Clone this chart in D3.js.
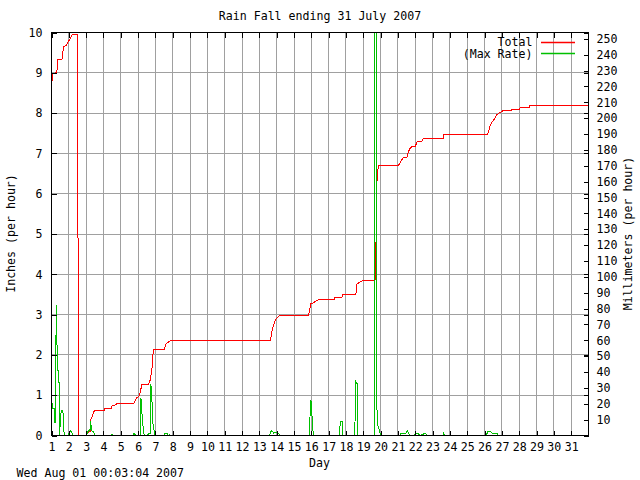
<!DOCTYPE html>
<html><head><meta charset="utf-8">
<script src="https://cdn.jsdelivr.net/npm/d3@7"></script>
<style>
html,body{margin:0;padding:0;background:#fff;}
svg{display:block;}
text{font-family:"DejaVu Sans Mono","Liberation Mono",monospace;font-size:11.6px;fill:#000;}
</style></head>
<body>
<svg id="chart" width="640" height="480"></svg>
<script>
// ---- data ----
const dayTicks = d3.range(1, 32);
const inchTicks = d3.range(0, 11);
const mmTicks = d3.range(10, 251, 10);
const titleText = "Rain Fall ending 31 July 2007";
const stampText = "Wed Aug 01 00:03:04 2007";
const seriesNames = ["Total", "(Max Rate)"];
const seriesColors = ["#ff0000", "#00c000"];

// Total (cumulative, inches) — day of month (fractional) / value
const totalDay = [1.023,1.081,1.214,1.312,1.346,1.600,1.693,1.849,1.982,2.080,2.178,2.501,2.559,2.946,3.136,3.230,3.240,3.333,3.425,3.523,4.043,4.072,4.430,4.487,4.678,4.776,5.734,5.833,5.931,6.081,6.219,6.600,6.699,6.797,6.854,6.889,7.507,7.605,7.853,13.627,13.684,13.760,13.858,13.973,14.106,14.204,15.838,15.977,16.092,16.323,16.416,17.322,17.351,17.767,17.784,18.575,18.592,18.633,18.864,19.014,19.649,19.704,19.773,19.790,19.848,19.865,21.035,21.133,21.323,21.520,21.612,21.710,21.808,21.999,22.097,22.189,22.386,22.443,23.633,23.644,26.173,26.230,26.328,26.427,26.577,26.715,26.906,27.062,27.524,27.582,28.021,28.061,28.598,28.610,32.0];
const totalIn  = [8.78,8.97,9.00,9.00,9.32,9.32,9.64,9.68,9.78,9.84,9.94,9.94,0,0,0.08,0.10,0.37,0.45,0.58,0.62,0.62,0.66,0.66,0.73,0.76,0.79,0.79,0.87,0.94,0.99,1.27,1.27,1.38,1.65,2.00,2.13,2.13,2.27,2.35,2.35,2.48,2.65,2.79,2.90,2.96,2.99,2.99,3.27,3.29,3.35,3.37,3.37,3.42,3.42,3.49,3.49,3.64,3.76,3.82,3.85,3.85,3.89,6.05,6.30,6.60,6.70,6.70,6.78,6.91,6.91,7.05,7.13,7.17,7.17,7.28,7.30,7.30,7.36,7.36,7.46,7.46,7.54,7.69,7.77,7.86,7.96,8.02,8.06,8.06,8.10,8.10,8.13,8.13,8.18,8.18];

// Max rate (inches per hour)
const rateDay = [1.023,1.081,1.173,1.185,1.231,1.271,1.300,1.312,1.346,1.427,1.462,1.502,1.560,1.658,1.693,1.733,1.935,1.982,2.120,2.236,3.003,3.079,3.194,3.240,3.260,3.310,3.392,3.465,3.523,4.447,4.487,4.533,5.717,5.775,5.861,6.121,6.162,6.219,6.277,6.352,6.554,6.600,6.699,6.739,6.797,6.854,6.930,6.987,7.507,7.565,7.663,7.738,7.813,7.882,13.598,13.627,13.725,13.818,13.973,14.106,14.164,15.908,15.937,15.977,16.035,16.092,16.127,17.599,17.628,17.709,17.813,17.824,18.517,18.535,18.592,18.667,18.679,19.632,19.660,19.704,19.761,19.788,19.845,19.920,19.978,20.036,21.104,21.133,21.421,21.554,21.670,21.970,21.999,22.189,22.287,22.443,22.576,22.663,23.587,23.633,23.731,26.100,26.173,26.369,26.427,26.715,26.808];
const rateIn  = [0.83,0.68,0.68,0.33,0.33,3.23,3.23,2.40,1.61,1.61,0,0.29,0.62,0.62,0.37,0,0,0.04,0.12,0,0,0.08,0.14,0.14,0.35,0.12,0.10,0.06,0,0,0.04,0,0,0.06,0,0,0.94,0.58,0.25,0,0,0.06,0.06,1.27,0.89,0.29,0.12,0,0,0.06,0.06,0,0.03,0,0,0.08,0.12,0.06,0.08,0.06,0,0,0.87,0.87,0.50,0.12,0,0,0.17,0.35,0.35,0,0,1.38,1.32,1.27,0,0,1.13,30,30,0.66,0.25,0.14,0.04,0,0,0.04,0.04,0.12,0,0,0.06,0.04,0,0.03,0.06,0,0,0.06,0,0,0.09,0.09,0.06,0.06,0];

// ---- layout ----
const L = 51.5, R = 588.5, T = 32.5, B = 435.5;
const svg = d3.select("#chart");
svg.append("rect").attr("width",640).attr("height",480).attr("fill","#fff");

const x = d3.scaleLinear().domain([1, 32]).range([L, R]);
const y = d3.scaleLinear().domain([0, 10]).range([B, T]);
const y2 = d3.scaleLinear().domain([0, 254]).range([B, T]);

svg.append("defs").append("clipPath").attr("id","plotclip")
  .append("rect").attr("x",L).attr("y",T).attr("width",R-L).attr("height",B-T);

// grid
const grid = svg.append("g").attr("stroke","#a0a0a0").attr("stroke-width",1).attr("shape-rendering","crispEdges");
grid.selectAll("line.v").data(dayTicks.filter(d => d > 1)).join("line")
  .attr("class","v").attr("x1", d => x(d)).attr("x2", d => x(d)).attr("y1", T).attr("y2", B);
grid.selectAll("line.h").data(inchTicks.filter(d => d > 0 && d < 10)).join("line")
  .attr("class","h").attr("x1", L).attr("x2", R).attr("y1", d => y(d)).attr("y2", d => y(d));

// data lines (Total first, Max Rate drawn over it)
const plot = svg.append("g").attr("clip-path","url(#plotclip)");
const totalData = totalDay.map((d,i) => [d, totalIn[i]]);
const rateData = rateDay.map((d,i) => [d, rateIn[i]]);
const line = d3.line().x(d => x(d[0])).y(d => y(d[1]));
plot.append("path").datum(totalData).attr("d", line)
  .style("fill","none").style("stroke",seriesColors[0]).style("stroke-width",1).attr("shape-rendering","crispEdges");
plot.append("path").datum(rateData).attr("d", line)
  .style("fill","none").style("stroke",seriesColors[1]).style("stroke-width",1).attr("shape-rendering","crispEdges");

// axes
function styleAxis(g){
  g.select(".domain").remove();
  g.selectAll(".tick line").attr("stroke","#000").attr("shape-rendering","crispEdges");
  g.attr("font-family",null).attr("font-size",null);
}
svg.append("g").attr("transform",`translate(0,${B})`)
  .call(d3.axisBottom(x).tickValues(dayTicks).tickSizeInner(-5).tickSizeOuter(0).tickFormat(d3.format("d")))
  .call(styleAxis)
  .call(g => g.selectAll("text").attr("y", 11).attr("dy","0.35em"));
svg.append("g").attr("transform",`translate(0,${T})`)
  .call(d3.axisTop(x).tickValues(dayTicks).tickSizeInner(-5).tickSizeOuter(0).tickFormat(""))
  .call(styleAxis);
svg.append("g").attr("transform",`translate(${L},0)`)
  .call(d3.axisLeft(y).tickValues(inchTicks).tickSizeInner(-5).tickSizeOuter(0).tickPadding(9).tickFormat(d3.format("d")))
  .call(styleAxis);
svg.append("g").attr("transform",`translate(${R},0)`)
  .call(d3.axisRight(y).tickValues(inchTicks).tickSizeInner(-5).tickSizeOuter(0).tickFormat(""))
  .call(styleAxis);
svg.append("g").attr("transform",`translate(${R},0)`)
  .call(d3.axisRight(y2).tickValues(mmTicks).tickSizeInner(-5).tickSizeOuter(0).tickPadding(8).tickFormat(d3.format("d")))
  .call(styleAxis);

// border
svg.append("rect").attr("x",L).attr("y",T).attr("width",R-L).attr("height",B-T)
  .attr("fill","none").attr("stroke","#000").attr("stroke-width",1).attr("shape-rendering","crispEdges");

// texts
svg.append("text").attr("x",320).attr("y",16).attr("text-anchor","middle").attr("dominant-baseline","central").text(titleText);
svg.append("text").attr("x",319.5).attr("y",463).attr("text-anchor","middle").attr("dominant-baseline","central").text("Day");
svg.append("text").attr("x",16.5).attr("y",473).attr("dominant-baseline","central").text(stampText);
svg.append("text").attr("transform","translate(11,233.5) rotate(-90)").attr("text-anchor","middle").attr("dominant-baseline","central").text("Inches (per hour)");
svg.append("text").attr("transform","translate(628,233.5) rotate(-90)").attr("text-anchor","middle").attr("dominant-baseline","central").text("Millimeters (per hour)");

// legend
const leg = svg.append("g");
seriesNames.forEach((name,i) => {
  const yy = 42 + i*12;
  leg.append("text").attr("x",532.5).attr("y",yy - (i===0 ? 0.3 : -0.3)).attr("text-anchor","end").attr("dominant-baseline","central").text(name);
  leg.append("line").attr("x1",541).attr("x2",575).attr("y1",yy - i + 0.5).attr("y2",yy - i + 0.5)
    .style("stroke",seriesColors[i]).style("stroke-width",1.4).style("fill","none");
});
</script>
</body></html>
